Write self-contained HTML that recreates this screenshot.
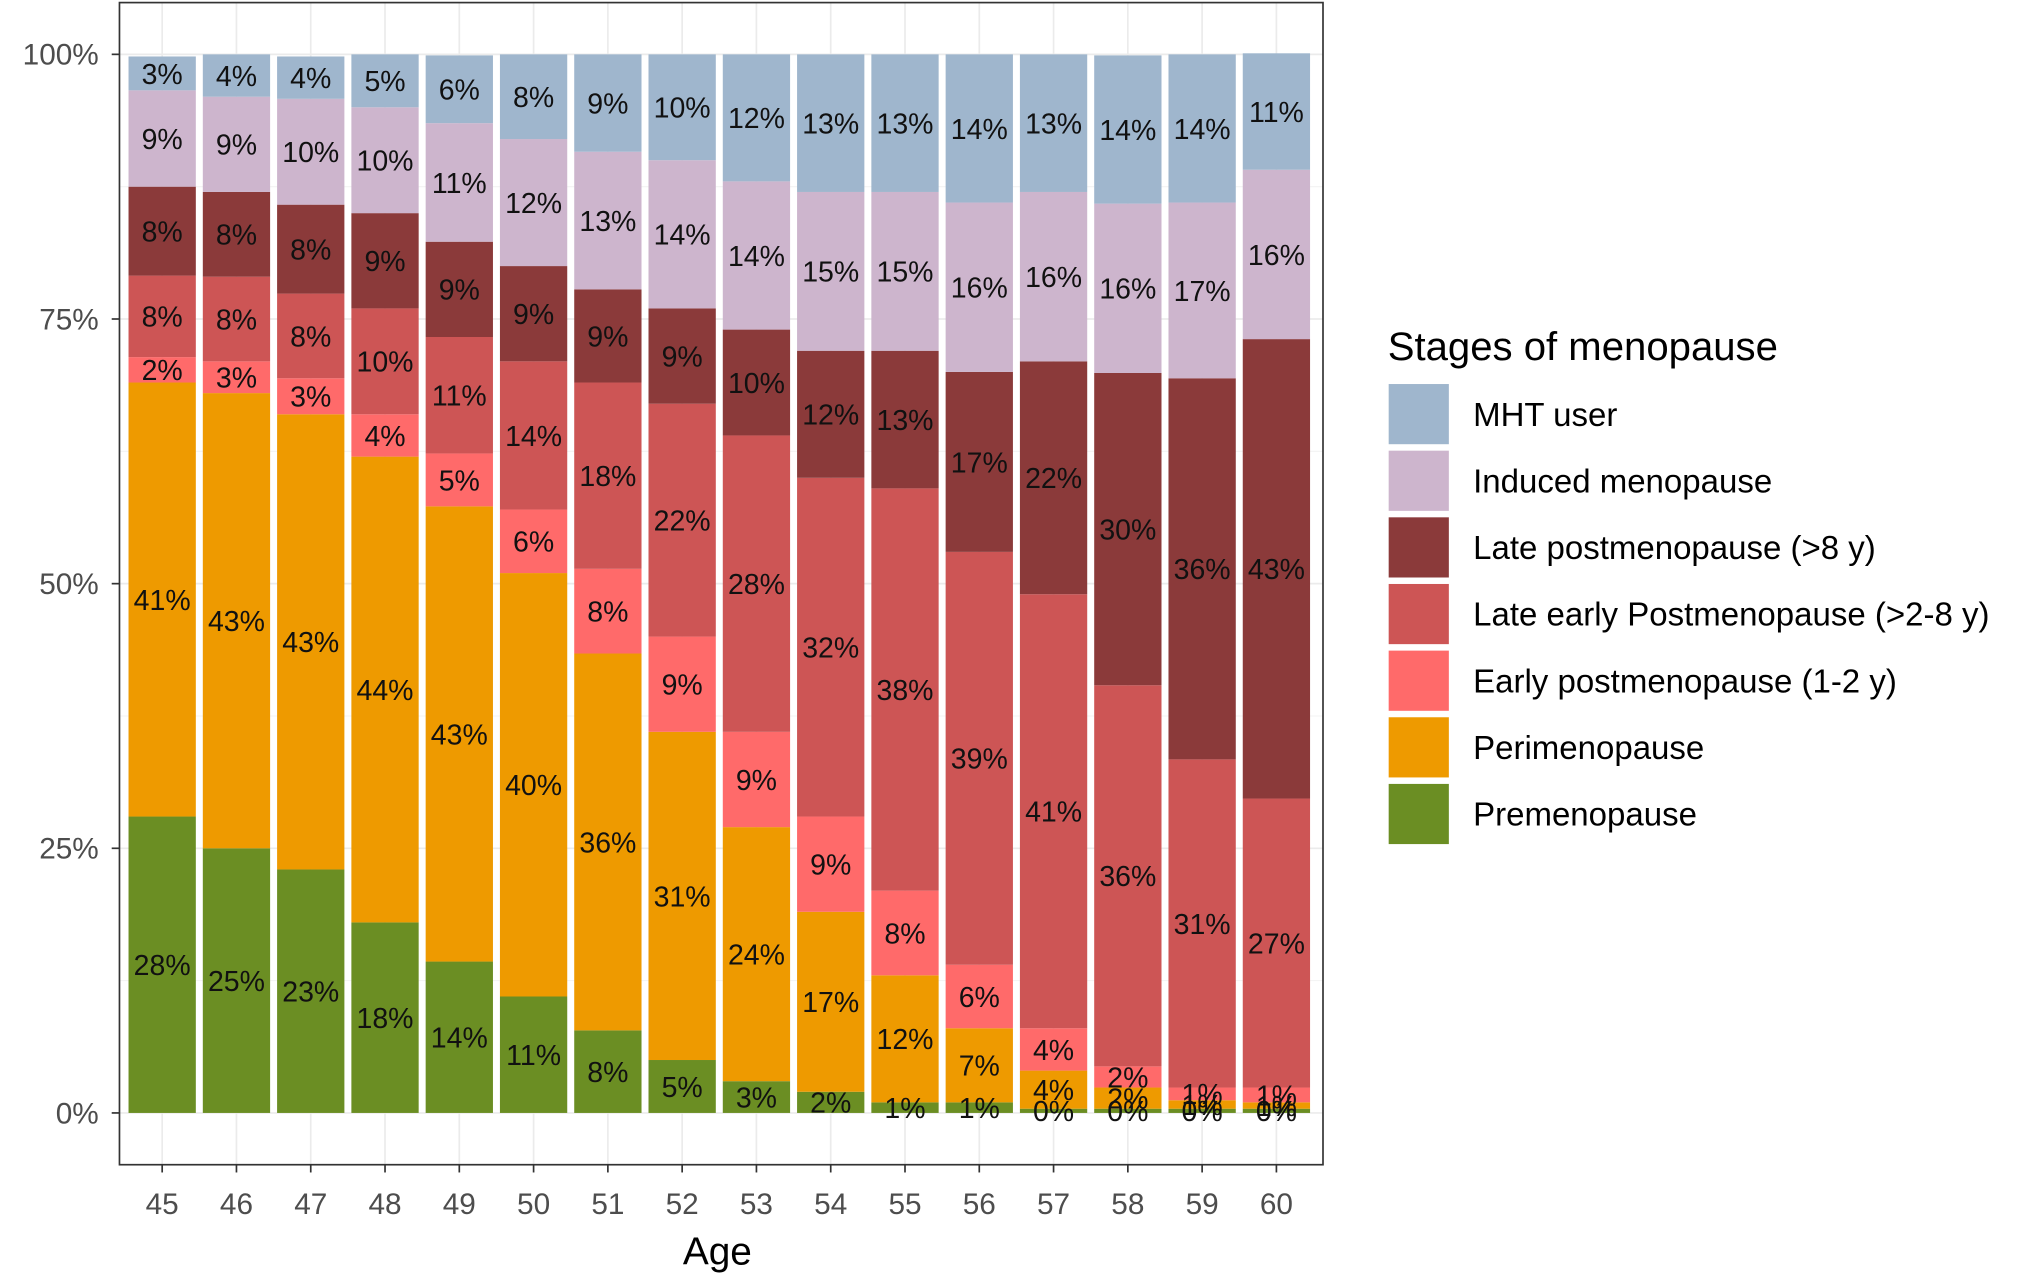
<!DOCTYPE html>
<html><head><meta charset="utf-8">
<style>
html,body{margin:0;padding:0;background:#fff;}
svg{display:block;font-family:"Liberation Sans",sans-serif;}
</style></head>
<body>
<svg id="chart" width="2030" height="1276" viewBox="0 0 1568 986" xmlns="http://www.w3.org/2000/svg">
<g id="grid"></g>
<g id="bars"></g>
<g id="labels"></g>
<rect x="92" y="2" width="930" height="898" fill="none" stroke="#333" stroke-width="1.3"/>
<g id="axes"></g>
<text x="554" y="977" font-size="30" text-anchor="middle" fill="#000">Age</text>
<g id="legend"></g>
</svg>
<script>
const ages = [45,46,47,48,49,50,51,52,53,54,55,56,57,58,59,60];
const stages = ["Premenopause","Perimenopause","Early postmenopause (1-2 y)","Late early Postmenopause (>2-8 y)","Late postmenopause (>8 y)","Induced menopause","MHT user"];
const colors = ["#6b8e23","#ee9a00","#ff6a6a","#cd5555","#8b3a3a","#cdb5cd","#9fb6cd"];
const pre       = [28,25,23,18,14.3,11,7.8,5,3,2,1,1,0.4,0.4,0.4,0.4];
const peri      = [41,43,43,44,43,40,35.6,31,24,17,12,7,3.6,2,0.8,0.6];
const early     = [2.4,3,3.4,4,5,6,8,9,9,9,8,6,4,2,1.2,1.4];
const lateEarly = [7.7,8,8,10,11,14,17.6,22,28,32,38,39,41,36,31,27.3];
const late      = [8.4,8,8.4,9,9,9,8.8,9,10,12,13,17,22,29.5,36,43.4];
const induced   = [9.1,9,10,10,11.2,12,13,14,14,15,15,16,16,16,16.6,16];
const mht       = [3.2,4,4,5,6.4,8,9.2,10,12,13,13,14,13,14,14,11];
const series = [pre,peri,early,lateEarly,late,induced,mht];
const yTicks = [0,25,50,75,100];

const NS="http://www.w3.org/2000/svg";
function mk(tag,attrs,parent){const e=document.createElementNS(NS,tag);for(const k in attrs)e.setAttribute(k,attrs[k]);parent.appendChild(e);return e;}
const x0=92,x1=1022,yBase=860,yTop=42;
const step=(986-125)/15;
function xC(i){return 125+i*step;}
function yS(v){return yBase-(yBase-yTop)*v/100;}
const barW=52;

const grid=document.getElementById('grid');
for(let t=0;t<yTicks.length;t++){
  const l=mk('line',{x1:x0,x2:x1,y1:yS(yTicks[t]),y2:yS(yTicks[t]),stroke:'#ebebeb','stroke-width':1.3},grid);
  
  
  if(t<yTicks.length-1){
    const m=mk('line',{x1:x0,x2:x1,y1:yS((yTicks[t]+yTicks[t+1])/2),y2:yS((yTicks[t]+yTicks[t+1])/2),stroke:'#f3f3f3','stroke-width':0.8},grid);
    
    
  }
}
ages.forEach((a,i)=>{
  const l=mk('line',{x1:xC(i),x2:xC(i),y1:2,y2:900,stroke:'#ebebeb','stroke-width':1.3},grid);
  
  
});

const bars=document.getElementById('bars'),labels=document.getElementById('labels');
ages.forEach((a,i)=>{
  let cum=0;
  series.forEach((s,k)=>{
    const v=s[i];
    const yt=yS(cum+v),yb=yS(cum);
    const r=mk('rect',{x:xC(i)-barW/2,y:yt,width:barW,height:yb-yt,fill:colors[k]},bars);
    
    
    const t=mk('text',{x:xC(i),y:(yt+yb)/2+8,'font-size':22,'text-anchor':'middle',fill:'#111'},labels);
    t.textContent=Math.round(v)+'%';
    
    
    cum+=v;
  });
  const l=mk('line',{x1:xC(i),x2:xC(i),y1:900,y2:906,stroke:'#333','stroke-width':1.3},document.getElementById('axes'));
  
  
  const t=mk('text',{x:xC(i),y:938,'font-size':23,'text-anchor':'middle',fill:'#4d4d4d'},document.getElementById('axes'));
  t.textContent=a;
  
  
});
const axes=document.getElementById('axes');
yTicks.forEach(v=>{
  const l=mk('line',{x1:86,x2:92,y1:yS(v),y2:yS(v),stroke:'#333','stroke-width':1.3},axes);
  
  
  const t=mk('text',{x:76,y:yS(v)+8,'font-size':23,'text-anchor':'end',fill:'#4d4d4d'},axes);
  t.textContent=v+'%';
  
  
});

const legend=document.getElementById('legend');
const lt=mk('text',{x:1072,y:278,'font-size':31,fill:'#000'},legend);
lt.textContent='Stages of menopause';


for(let j=0;j<7;j++){
  const k=6-j;
  const y=296+j*51.5;
  const r=mk('rect',{x:1072,y:y,width:48,height:48,fill:colors[k],stroke:'#fff','stroke-width':1.5},legend);
  
  
  const t=mk('text',{x:1138,y:y+33,'font-size':25.5,fill:'#000'},legend);
  t.textContent=stages[k];
  
  
}
</script>
</body></html>
